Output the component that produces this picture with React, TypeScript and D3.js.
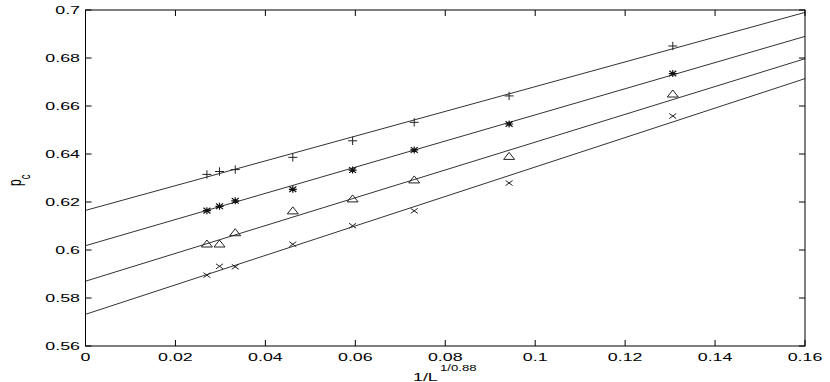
import React from "react";
import * as d3 from "d3";

const invL = [0.027, 0.0298, 0.0333, 0.0461, 0.0594, 0.0731, 0.0942, 0.1306];
const plusVals = [0.6315, 0.6327, 0.6335, 0.6386, 0.6455, 0.6532, 0.6642, 0.685];
const starVals = [0.6164, 0.6182, 0.6205, 0.6253, 0.6333, 0.6417, 0.6525, 0.6735];
const triVals = [0.6025, 0.6025, 0.6072, 0.6163, 0.6213, 0.6292, 0.639, 0.665];
const crossVals = [0.5895, 0.5932, 0.593, 0.6024, 0.6101, 0.6163, 0.6279, 0.6558];
const fitStart = [0.6165, 0.6018, 0.587, 0.5732];
const fitEnd = [0.699, 0.689, 0.6797, 0.6714];
const fitX = [0, 0.16];
const xTicks = [0, 0.02, 0.04, 0.06, 0.08, 0.1, 0.12, 0.14, 0.16];
const xTickLabels = ["0", "0.02", "0.04", "0.06", "0.08", "0.1", "0.12", "0.14", "0.16"];
const yTicks = [0.56, 0.58, 0.6, 0.62, 0.64, 0.66, 0.68, 0.7];
const yTickLabels = ["0.56", "0.58", "0.6", "0.62", "0.64", "0.66", "0.68", "0.7"];

const L = 85.5, R = 805, T = 10, B = 346;
const FONT = "'Liberation Sans', Arial, Helvetica, sans-serif";
const SX = 1.55;

function marker(kind: string, x: number, y: number, key: string) {
  const hx = 4.5, hy = 3.2;
  const st = { stroke: "#222", strokeWidth: 1, fill: "none" };
  if (kind === "plus") {
    return <path key={key} d={`M${x - hx},${y}H${x + hx}M${x},${y - hy - 1}V${y + hy + 1}`} {...st} />;
  }
  if (kind === "cross") {
    return <path key={key} d={`M${x - 3.5},${y - 2.5}L${x + 3.5},${y + 2.5}M${x - 3.5},${y + 2.5}L${x + 3.5},${y - 2.5}`} {...st} />;
  }
  if (kind === "star") {
    return (
      <path key={key}
        d={`M${x - 4},${y}H${x + 4}M${x},${y - 3.5}V${y + 3.5}M${x - 3.5},${y - 2.8}L${x + 3.5},${y + 2.8}M${x - 3.5},${y + 2.8}L${x + 3.5},${y - 2.8}`}
        stroke="#111" strokeWidth={1.2} fill="none" />
    );
  }
  return <path key={key} d={`M${x - 5.5},${y + 3}L${x + 5.5},${y + 3}L${x},${y - 4}Z`} {...st} />;
}

export default function App() {
  const xs = d3.scaleLinear().domain([0, 0.16]).range([L, R]);
  const ys = d3.scaleLinear().domain([0.56, 0.7]).range([B, T]);
  const line = d3.line<[number, number]>().x((d) => xs(d[0])).y((d) => ys(d[1]));
  const series: [string, number[]][] = [
    ["plus", plusVals],
    ["star", starVals],
    ["tri", triVals],
    ["cross", crossVals],
  ];
  const tick = 6;
  return (
    <svg width={830} height={382} style={{ position: "fixed", left: 0, top: 0, background: "#fff" }}>
      <rect x={0} y={0} width={830} height={382} fill="#fff" />
      {fitStart.map((s, i) => (
        <path key={"fit" + i} d={line([[fitX[0], s], [fitX[1], fitEnd[i]]]) || ""} stroke="#333" strokeWidth={1} fill="none" />
      ))}
      {series.map(([k, vals]) => vals.map((v, i) => marker(k, xs(invL[i]), ys(v), k + i)))}
      <rect x={L} y={T} width={R - L} height={B - T} fill="none" stroke="#000" strokeWidth={1} />
      {xTicks.map((t, i) => (
        <g key={"xt" + i}>
          <line x1={xs(t)} x2={xs(t)} y1={B} y2={B - tick} stroke="#000" />
          <line x1={xs(t)} x2={xs(t)} y1={T} y2={T + tick} stroke="#000" />
          <text transform={`translate(${xs(t)},361) scale(${SX},1)`} textAnchor="middle" fontFamily={FONT} fontSize={11.5} fill="#000">
            {xTickLabels[i]}
          </text>
        </g>
      ))}
      {yTicks.map((t, i) => (
        <g key={"yt" + i}>
          <line x1={L} x2={L + tick} y1={ys(t)} y2={ys(t)} stroke="#000" />
          <line x1={R} x2={R - tick} y1={ys(t)} y2={ys(t)} stroke="#000" />
          <text transform={`translate(80,${ys(t) + 4}) scale(${SX},1)`} textAnchor="end" fontFamily={FONT} fontSize={11.5} fill="#000">
            {yTickLabels[i]}
          </text>
        </g>
      ))}
      <text transform={`translate(413,381) scale(${SX},1)`} fontFamily={FONT} fontSize={11.5} fill="#000">1/L</text>
      <text transform={`translate(440,370.5) scale(${SX},1)`} fontFamily={FONT} fontSize={8.5} fill="#000">1/0.88</text>
      <g transform="translate(21,186) rotate(-90) scale(1,1.5)">
        <text fontFamily={FONT} fontSize={12} fill="#000">
          p<tspan fontSize={9.5} dy={6}>c</tspan>
        </text>
      </g>
    </svg>
  );
}
